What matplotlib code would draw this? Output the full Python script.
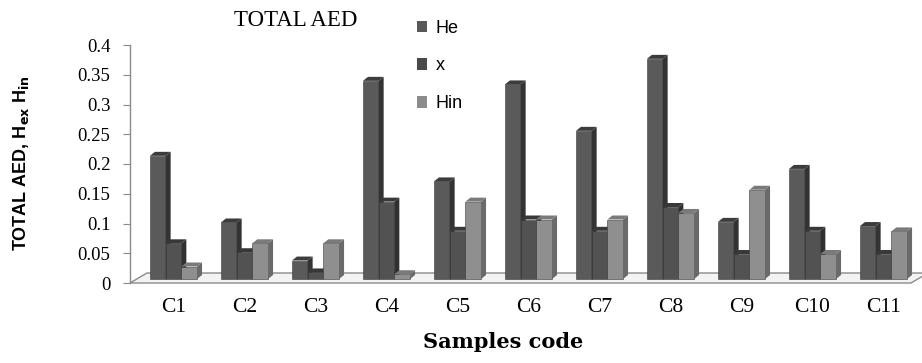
import matplotlib
matplotlib.use('Agg')
import matplotlib.pyplot as plt
from matplotlib.patches import Polygon, Patch

# ---------------- data ----------------
categories = ['C1', 'C2', 'C3', 'C4', 'C5', 'C6', 'C7', 'C8', 'C9', 'C10', 'C11']
series_names = ['He', 'x', 'Hin']
he = [0.207, 0.095, 0.031, 0.333, 0.164, 0.327, 0.249, 0.370, 0.096, 0.185, 0.089]
xv = [0.060, 0.045, 0.011, 0.130, 0.081, 0.100, 0.081, 0.121, 0.042, 0.081, 0.042]
hin = [0.021, 0.060, 0.060, 0.008, 0.130, 0.100, 0.100, 0.111, 0.150, 0.042, 0.080]
yticks = [0, 0.05, 0.1, 0.15, 0.2, 0.25, 0.3, 0.35, 0.4]
ytick_labels = ['0', '0.05', '0.1', '0.15', '0.2', '0.25', '0.3', '0.35', '0.4']

# ---------------- style ----------------
W, H, DPI = 922, 363, 100
front_cols = ['#5a5a5a', '#525252', '#8f8f8f']
side_cols = ['#333333', '#303030', '#6a6a6a']
top_cols = ['#3c3c3c', '#383838', '#7a7a7a']
legend_cols = ['#585858', '#4a4a4a', '#8c8c8c']

fig = plt.figure(figsize=(W / DPI, H / DPI), dpi=DPI)
ax_l, ax_r, ax_b, ax_t = 130, 911, 283, 45
ax = fig.add_axes([ax_l / W, 1 - ax_b / H, (ax_r - ax_l) / W, (ax_b - ax_t) / H])
n = len(categories)
ax.set_xlim(0, n)
ax.set_ylim(0, 0.4)
ax.patch.set_alpha(0)

px_x = n / (ax_r - ax_l)        # data units per pixel (x)
px_y = 0.4 / (ax_b - ax_t)      # data units per pixel (y)

# floor
fd_x, fd_y = 17 * px_x, 10 * px_y
floor = Polygon([(0, 0), (n, 0), (n + fd_x, fd_y), (fd_x, fd_y)], closed=True,
                facecolor='#f3f3f3', edgecolor='#8a8a8a', lw=1.0, clip_on=False, zorder=1)
ax.add_patch(floor)

# bars with pseudo-3D faces
bw = 15.7 * px_x
off_x, base = 8 * px_x, 4 * px_y
dx, dy = 5 * px_x, 4 * px_y
series = [he, xv, hin]
z = 2
for i in range(n):
    for k, vals in enumerate(series):
        v = vals[i]
        x0 = i + 0.5 + off_x + (k - 1.5) * bw
        x1 = x0 + bw
        ax.bar(x0, v, width=bw, bottom=base, align='edge', color=front_cols[k],
               edgecolor='#3a3a3a', linewidth=0.4, zorder=z, clip_on=False)
        side = Polygon([(x1, base), (x1 + dx, base + dy), (x1 + dx, base + v + dy), (x1, base + v)],
                       closed=True, facecolor=side_cols[k], edgecolor='none', zorder=z, clip_on=False)
        top = Polygon([(x0, base + v), (x0 + dx, base + v + dy), (x1 + dx, base + v + dy), (x1, base + v)],
                      closed=True, facecolor=top_cols[k], edgecolor='none', zorder=z, clip_on=False)
        ax.add_patch(side)
        ax.add_patch(top)
        z += 1

# axes styling
for s in ['top', 'right', 'bottom']:
    ax.spines[s].set_visible(False)
ax.spines['left'].set_color('#8a8a8a')
ax.spines['left'].set_linewidth(1.0)
ax.set_yticks(yticks)
ax.set_yticklabels(ytick_labels, fontfamily='Liberation Serif', fontsize=13.5)
ax.tick_params(axis='y', direction='out', length=5, color='#8a8a8a', pad=9)

ax.set_xticks([i + 0.5 + off_x for i in range(n)])
ax.set_xticklabels(categories, fontfamily='Liberation Serif', fontsize=15.5)
ax.tick_params(axis='x', length=0, pad=11)

# axis titles
fig.text(21 / W, 1 - 163 / H, r'TOTAL AED, H$_{\mathbf{ex}}$ H$_{\mathbf{in}}$',
         rotation=90, ha='center', va='center', fontsize=13, fontweight='bold',
         fontfamily='Liberation Sans')
fig.text(503 / W, 1 - 342 / H, 'Samples code', ha='center', va='center',
         fontsize=15, fontweight='bold', fontfamily='DejaVu Serif')

# title-like text and legend
fig.text(296 / W, 1 - 21 / H, 'TOTAL AED', ha='center', va='center',
         fontsize=16.5, fontfamily='Liberation Serif')
handles = [Patch(facecolor=c, edgecolor='none') for c in legend_cols]
leg = fig.legend(handles, series_names, loc='upper left',
                 bbox_to_anchor=(404 / W, 1 - 7 / H), frameon=False,
                 prop={'family': 'Liberation Sans', 'size': 13},
                 handlelength=0.6, handleheight=0.6, handletextpad=0.45,
                 labelspacing=1.15, borderpad=0.2)

fig.savefig('out.png', dpi=DPI)
